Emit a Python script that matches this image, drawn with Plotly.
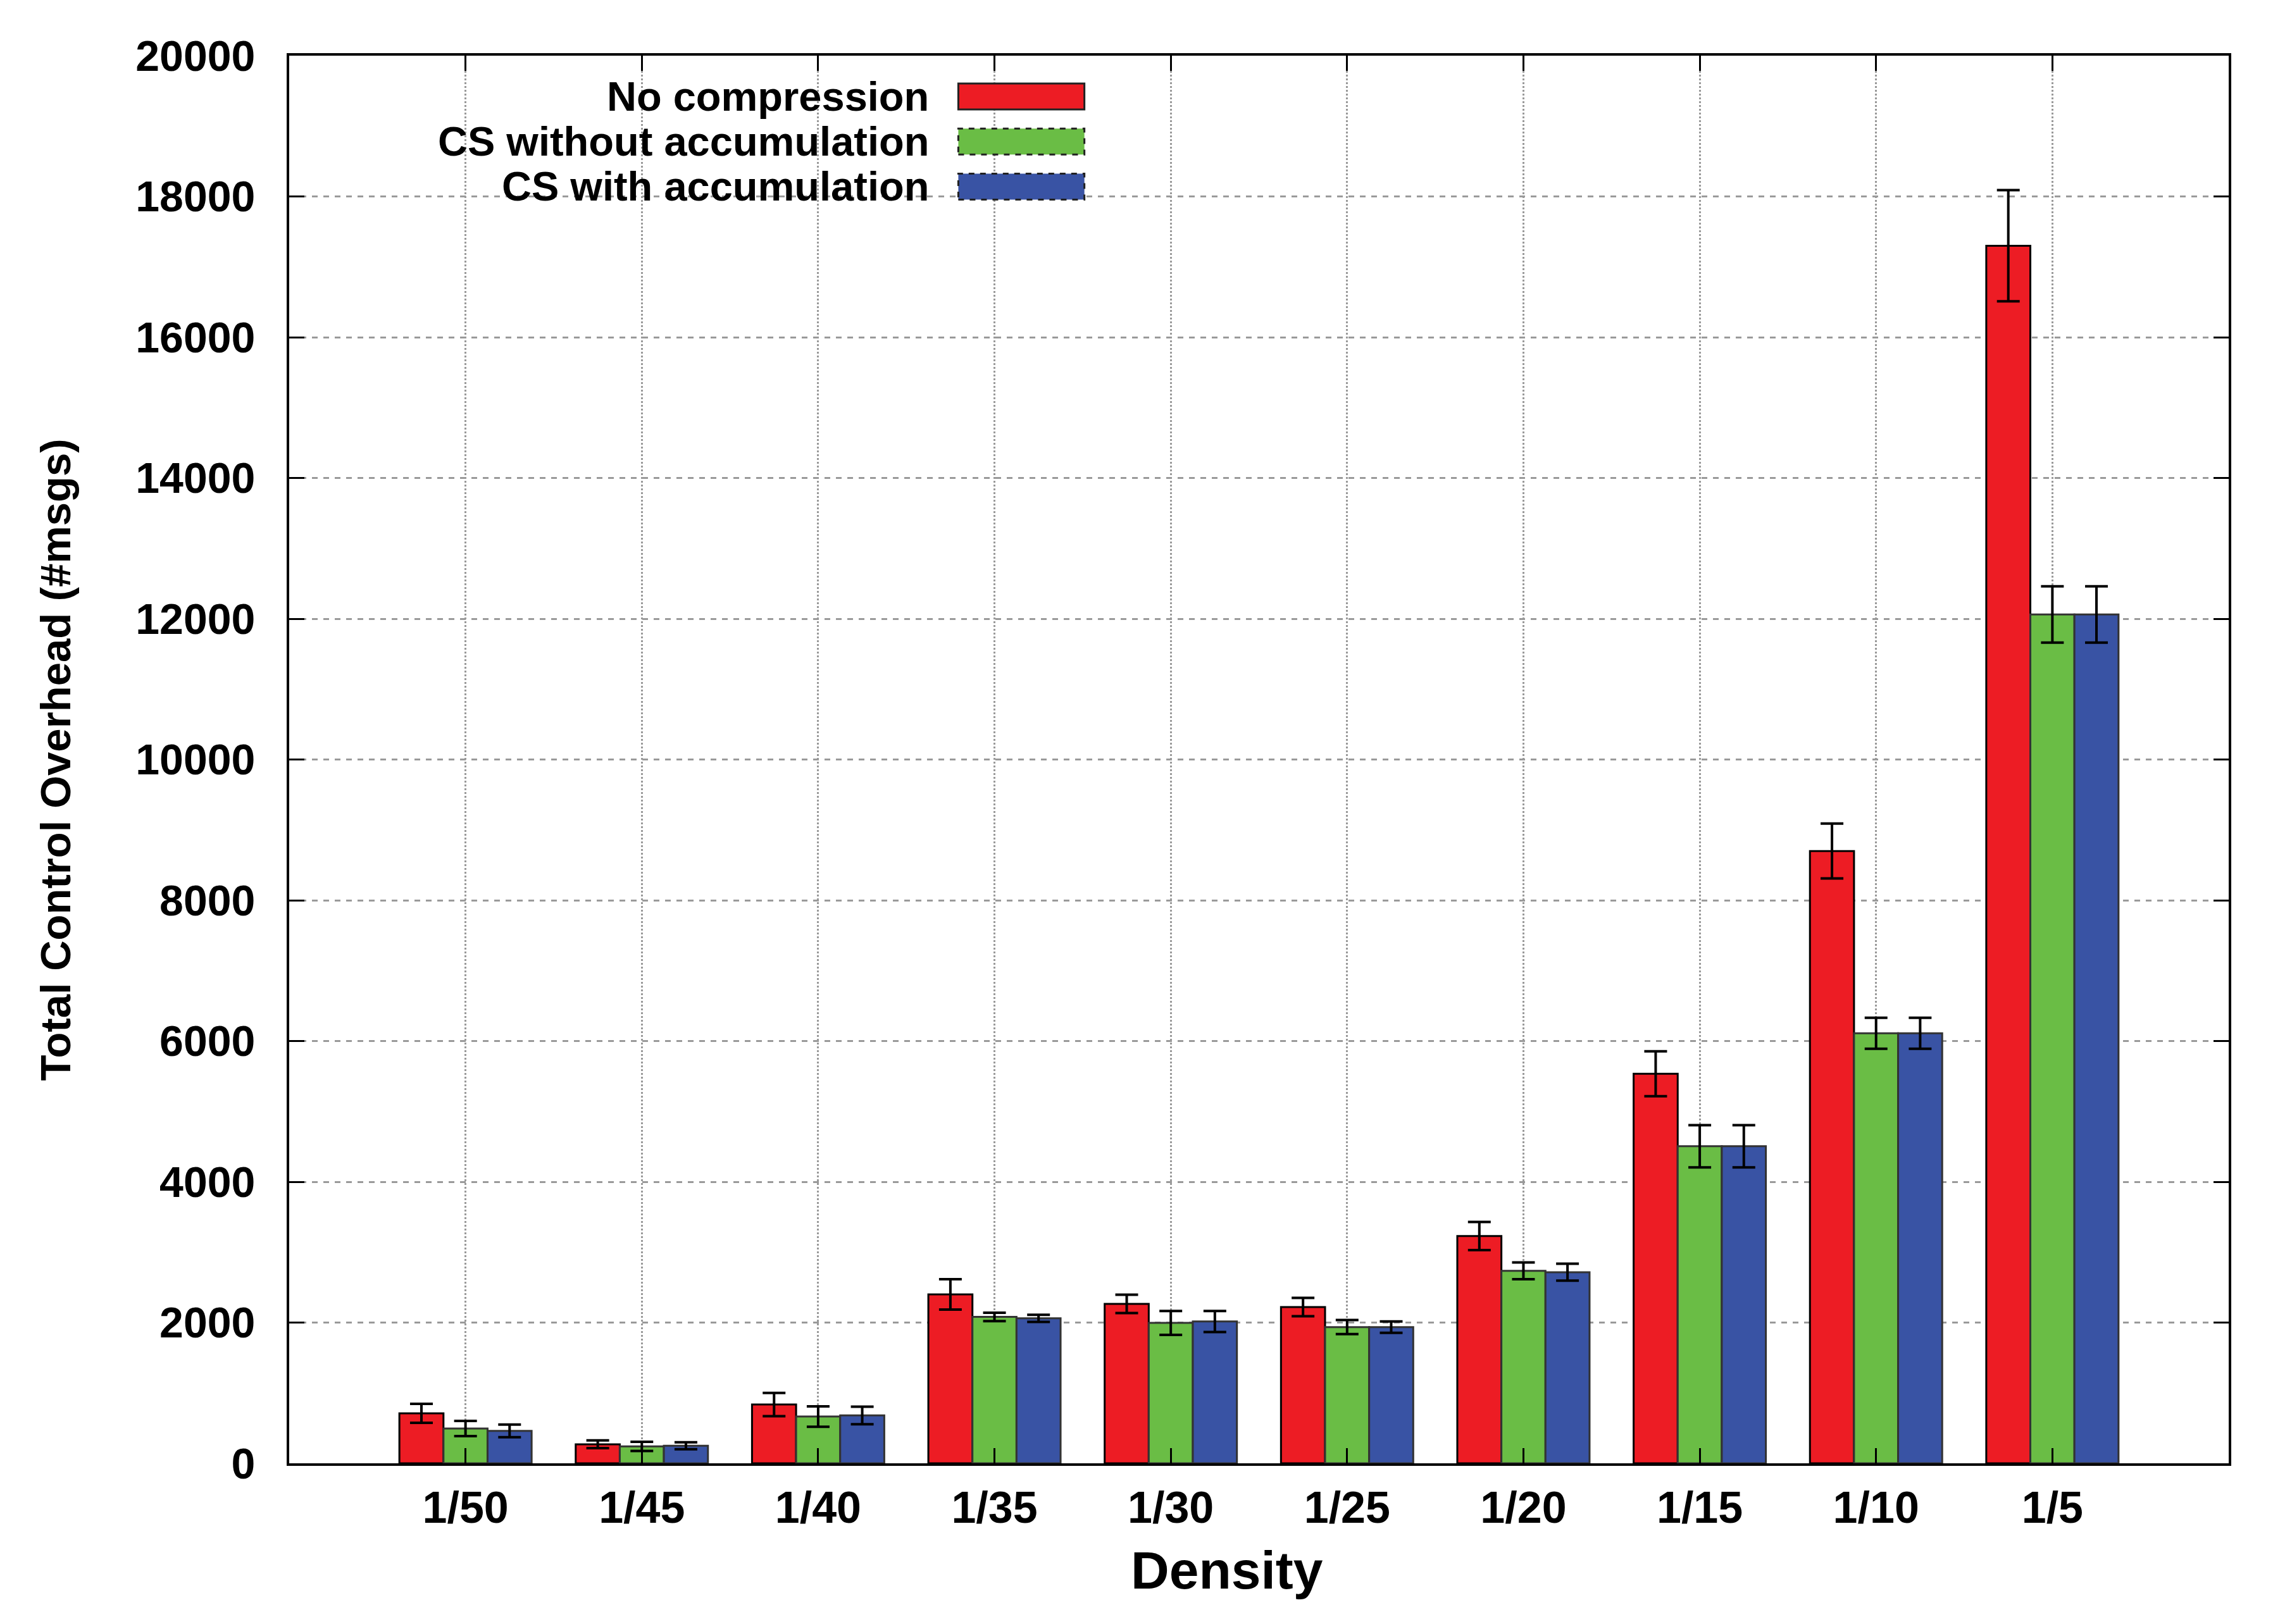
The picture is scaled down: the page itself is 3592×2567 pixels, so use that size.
import plotly.graph_objects as go

categories = ["1/50", "1/45", "1/40", "1/35", "1/30", "1/25", "1/20", "1/15", "1/10", "1/5"]
series_names = ["No compression", "CS without accumulation", "CS with accumulation"]
no_comp = [710, 270, 835, 2400, 2265, 2220, 3230, 5535, 8700, 17300]
no_comp_err = [135, 55, 165, 215, 130, 130, 200, 320, 390, 790]
cs_wo = [495, 240, 665, 2080, 1995, 1935, 2735, 4505, 6110, 12060]
cs_wo_err = [108, 65, 145, 60, 170, 100, 120, 300, 220, 400]
cs_w = [460, 250, 680, 2060, 2015, 1935, 2715, 4505, 6110, 12060]
cs_w_err = [90, 50, 125, 50, 150, 80, 120, 300, 220, 400]
colors = ["#ED1C24", "#6ABD45", "#3953A4"]
y_ticks = list(range(0, 20001, 2000))

values = [no_comp, cs_wo, cs_w]
errors = [no_comp_err, cs_wo_err, cs_w_err]
outline = ["#000000", "#333333", "#333333"]

fig = go.Figure()
for name, v, e, c, oc in zip(series_names, values, errors, colors, outline):
    fig.add_trace(go.Bar(
        x=categories, y=v, name=name, showlegend=False,
        marker=dict(color=c, line=dict(color=oc, width=3)),
        error_y=dict(type="data", array=e, visible=True, color="black", thickness=4, width=18),
    ))

FONT = "Liberation Sans"
fig.update_layout(
    width=3592, height=2567,
    margin=dict(l=449, r=78, t=80, b=262),
    paper_bgcolor="white", plot_bgcolor="white",
    barmode="group", bargap=0.25, bargroupgap=0.0,
    font=dict(family=FONT, size=66, color="black", weight="bold"),
)
fig.update_xaxes(
    range=[-1, 10], showline=True, linecolor="black", linewidth=4, mirror="ticks",
    ticks="inside", ticklen=24, tickwidth=3, tickcolor="black",
    showgrid=True, gridcolor="#9a9a9a", gridwidth=3, griddash="dot",
    tickfont=dict(family=FONT, size=70, weight="bold"), ticklabelstandoff=6,
)
fig.update_yaxes(
    range=[0, 20000], tickvals=y_ticks, tickformat="d",
    showline=True, linecolor="black", linewidth=4, mirror="ticks",
    ticks="inside", ticklen=24, tickwidth=3, tickcolor="black",
    showgrid=True, gridcolor="#9a9a9a", gridwidth=3, griddash="dash",
    zeroline=False,
    tickfont=dict(family=FONT, size=68, weight="bold"), ticklabelstandoff=36,
)

annotations = [
    dict(text="Total Control Overhead (#msgs)", x=-0.1204, y=0.5, xref="paper", yref="paper",
         textangle=-90, showarrow=False, xanchor="center", yanchor="middle",
         font=dict(family=FONT, size=67, weight="bold")),
    dict(text="Density", x=(1931 - 449) / 3065, y=-0.076, xref="paper", yref="paper",
         showarrow=False, xanchor="center", yanchor="middle",
         font=dict(family=FONT, size=84, weight="bold")),
]
shapes = []
legend_y = [0.971, 0.939, 0.907]
for name, c, ly in zip(series_names, colors, legend_y):
    annotations.append(dict(text=name, x=0.3305, y=ly, xref="paper", yref="paper",
                            showarrow=False, xanchor="right", yanchor="middle",
                            font=dict(family=FONT, size=65, weight="bold")))
    shapes.append(dict(type="rect", xref="paper", yref="paper",
                       x0=0.345, x1=0.410, y0=ly - 0.0092, y1=ly + 0.0092,
                       fillcolor=c, line=dict(color="#222222", width=3,
                                              dash="solid" if c == colors[0] else "dash")))
fig.update_layout(annotations=annotations, shapes=shapes)

fig.write_html("out.html")
